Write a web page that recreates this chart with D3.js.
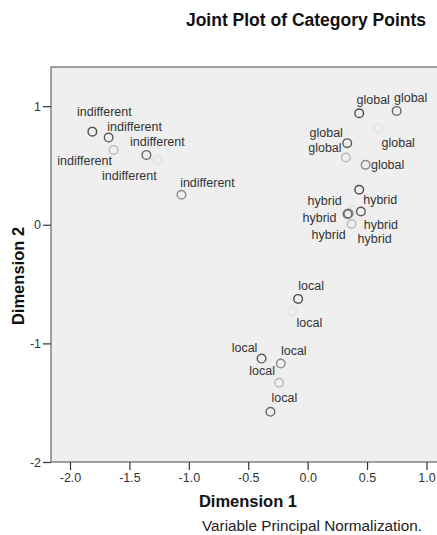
<!DOCTYPE html>
<html>
<head>
<meta charset="utf-8">
<script src="https://cdn.jsdelivr.net/npm/d3@7"></script>
<style>
  html, body { margin: 0; padding: 0; background: #ffffff; }
  svg { display: block; font-family: "Liberation Sans", Arial, sans-serif; }
</style>
</head>
<body>
<svg id="chart" width="437" height="535"></svg>
<script>
// ---- data ----
const categories = ["indifferent", "global", "hybrid", "local"];
// one row per category, one column per variable (6 variables)
const dim1 = [
  [-1.812, -1.675, -1.357, -1.062, -1.633, -1.265],
  [ 0.434,  0.333,  0.749,  0.488,  0.322,  0.594],
  [ 0.434,  0.448,  0.336,  0.345,  0.370,  0.370],
  [-0.080, -0.388, -0.313, -0.226, -0.240, -0.129]
];
const dim2 = [
  [ 0.785,  0.735,  0.589,  0.253,  0.631,  0.547],
  [ 0.940,  0.688,  0.960,  0.505,  0.567,  0.814],
  [ 0.295,  0.112,  0.090,  0.095,  0.006,  0.126],
  [-0.625, -1.128, -1.577, -1.170, -1.332, -0.730]
];
const xTicks = [-2.0, -1.5, -1.0, -0.5, 0.0, 0.5, 1.0];
const yTicks = [-2, -1, 0, 1];
const titleText = "Joint Plot of Category Points";
const xTitle = "Dimension 1";
const yTitle = "Dimension 2";
const noteText = "Variable Principal Normalization.";

// ---- styles / layout (not data) ----
const variableShades = ["#4a4a4a", "#595959", "#666666", "#8a8a8a", "#b8b8b8", "#e2e2e2"];
// label offsets in pixels, per category / variable
const labelOffsets = [
  [[12, -20], [26, -11], [11, -13], [26, -12], [-29, 11], [-28, 16]],
  [[14, -14], [-21, -11], [14, -13], [22, 0], [-21, -10], [20, 14]],
  [[21, 10], [20, 13], [-28, 3], [-20, 21], [23, 14], [-27, -9]],
  [[13, -13], [-17, -11], [14, -14], [13, -13], [-17, -12], [17, 11]]
];

const svg = d3.select("#chart");
const plotL = 51, plotR = 445, plotT = 67, plotB = 462;

const x = d3.scaleLinear().domain([-2.16, 1.156]).range([plotL, plotR]);
const y = d3.scaleLinear().domain([-2, 1.33]).range([plotB, plotT]);

// plot background + frame
svg.append("rect")
  .attr("x", plotL).attr("y", plotT)
  .attr("width", plotR - plotL).attr("height", plotB - plotT)
  .attr("fill", "#efefef").attr("stroke", "#4a4a4a").attr("stroke-width", 1);

// axes
const xAxis = svg.append("g")
  .attr("transform", `translate(0,${plotB})`)
  .call(d3.axisBottom(x).tickValues(xTicks).tickSize(8).tickPadding(3)
    .tickFormat(d => d.toFixed(1)));
const yAxis = svg.append("g")
  .attr("transform", `translate(${plotL},0)`)
  .call(d3.axisLeft(y).tickValues(yTicks).tickSize(8).tickPadding(2)
    .tickFormat(d => String(d)));
[xAxis, yAxis].forEach(g => {
  g.select(".domain").remove();
  g.selectAll(".tick line").attr("stroke", "#333").attr("stroke-width", 1.2);
  g.selectAll(".tick text").attr("fill", "#333")
    .style("font-size", "12.5px").style("font-family", "Liberation Sans, Arial, sans-serif");
});

// points
const pts = [];
categories.forEach((c, ci) => {
  dim1[ci].forEach((v, vi) => {
    pts.push({ cat: c, ci, vi, d1: v, d2: dim2[ci][vi] });
  });
});
// draw lighter ones first
pts.sort((a, b) => b.vi - a.vi);

const g = svg.append("g");
g.selectAll("circle").data(pts).enter().append("circle")
  .attr("cx", d => x(d.d1))
  .attr("cy", d => y(d.d2))
  .attr("r", 4.3)
  .attr("fill", "none")
  .attr("stroke", d => variableShades[d.vi])
  .attr("stroke-width", 1.4);

g.selectAll("text").data(pts).enter().append("text")
  .attr("x", d => x(d.d1) + labelOffsets[d.ci][d.vi][0])
  .attr("y", d => y(d.d2) + labelOffsets[d.ci][d.vi][1] + 4.5)
  .attr("text-anchor", "middle")
  .attr("fill", "#333")
  .style("font-size", "12.5px")
  .text(d => d.cat);

// titles
svg.append("text")
  .attr("x", 306).attr("y", 26)
  .attr("text-anchor", "middle")
  .attr("font-weight", "bold").style("font-size", "17.5px").attr("fill", "#111")
  .text(titleText);

svg.append("text")
  .attr("x", 248).attr("y", 507)
  .attr("text-anchor", "middle")
  .attr("font-weight", "bold").style("font-size", "16.5px").attr("fill", "#111")
  .text(xTitle);

svg.append("text")
  .attr("transform", `translate(24,276) rotate(-90)`)
  .attr("text-anchor", "middle")
  .attr("font-weight", "bold").style("font-size", "16.5px").attr("fill", "#111")
  .text(yTitle);

svg.append("text")
  .attr("x", 312).attr("y", 531)
  .attr("text-anchor", "middle")
  .style("font-size", "15.3px").attr("fill", "#222")
  .text(noteText);
</script>
</body>
</html>
